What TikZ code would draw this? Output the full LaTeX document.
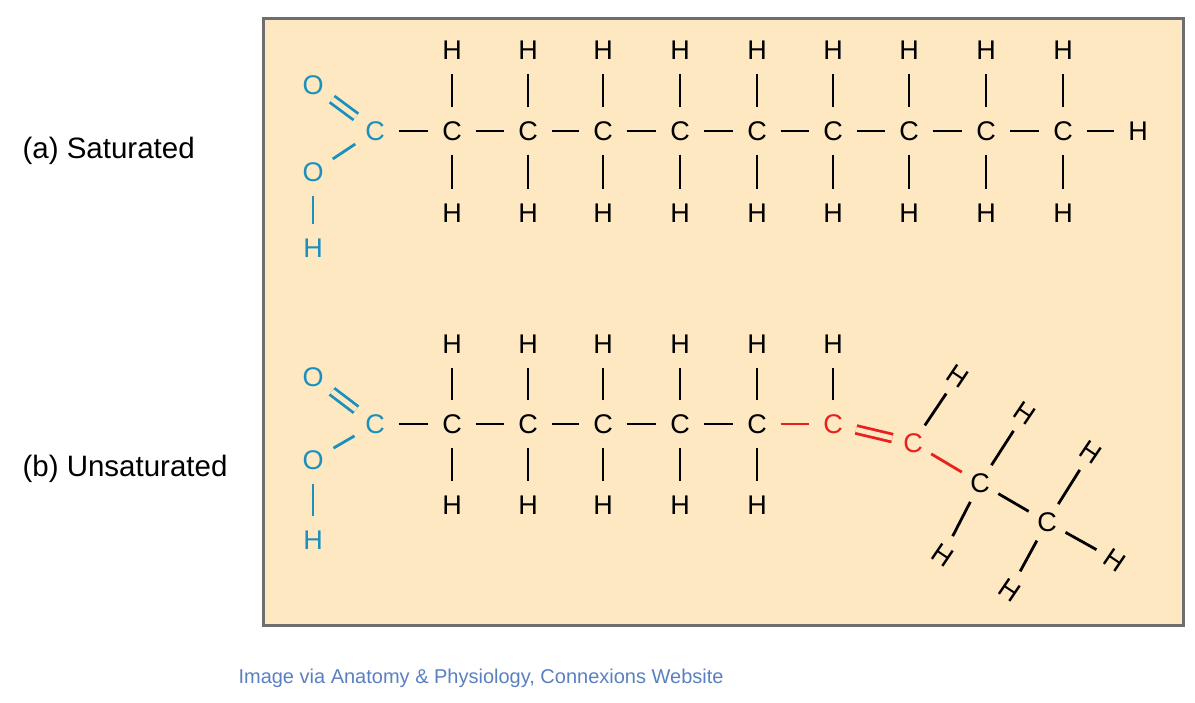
\documentclass[tikz,border=0pt]{standalone}
\usepackage{fontspec}
\setmainfont{Liberation Sans}
\definecolor{bg}{HTML}{FDE8C1}
\definecolor{acid}{HTML}{1A90BE}
\definecolor{dbl}{HTML}{E8211F}
\definecolor{frame}{HTML}{6E6E6E}
\definecolor{cap}{HTML}{5A80C0}
\begin{document}
\begin{tikzpicture}[x=1pt,y=-1pt,
  atom/.style={circle,minimum size=47pt,inner sep=0pt,font=\fontsize{27}{27}\selectfont},
  bond/.style={line width=2.8pt},
  lab/.style={anchor=west,font=\fontsize{29.5}{29.5}\selectfont},
  dbond/.style={line width=2.8pt,double=bg,double distance=5pt}]
\useasboundingbox (0,0) rectangle (1195,702);
\draw[frame,line width=3pt,fill=bg] (263,18) rectangle (1183,625);
\node[lab] (la) at (19,151) {(a) Saturated};
\node[lab] (lb) at (19,469) {(b) Unsaturated};
\node[anchor=west,text=cap,font=\fontsize{20}{20}\selectfont] (cp) at (235,678) {Image via Anatomy \& Physiology, Connexions Website};
% ---- row a
\begin{scope}[acid]
\node[atom] (ac) at (375,131) {C};
\node[atom] (ao1) at (313,85) {O};
\node[atom] (ao2) at (313,172) {O};
\node[atom] (ah) at (313,248) {H};
\draw[dbond] (ac) -- (ao1);
\draw[bond] (ac) -- (ao2);
\draw[bond] (ao2) -- (ah);
\end{scope}
\foreach \i/\x in {1/452,2/528,3/603,4/680,5/757,6/833,7/909,8/986,9/1063}{
  \node[atom] (a\i) at (\x,131) {C};
  \node[atom] (au\i) at (\x,50) {H};
  \node[atom] (ad\i) at (\x,213) {H};
  \draw[bond] (a\i) -- (au\i);
  \draw[bond] (a\i) -- (ad\i);
}
\node[atom] (aend) at (1138,131) {H};
\draw[bond] (ac) -- (a1);
\foreach \i/\j in {1/2,2/3,3/4,4/5,5/6,6/7,7/8,8/9}{\draw[bond] (a\i) -- (a\j);}
\draw[bond] (a9) -- (aend);
% ---- row b
\begin{scope}[acid]
\node[atom] (bc) at (375,424) {C};
\node[atom] (bo1) at (313,377) {O};
\node[atom] (bo2) at (313,460) {O};
\node[atom] (bh) at (313,540) {H};
\draw[dbond] (bc) -- (bo1);
\draw[bond] (bc) -- (bo2);
\draw[bond] (bo2) -- (bh);
\end{scope}
\foreach \i/\x in {1/452,2/528,3/603,4/680,5/757}{
  \node[atom] (b\i) at (\x,424) {C};
  \node[atom] (bu\i) at (\x,344) {H};
  \node[atom] (bd\i) at (\x,505) {H};
  \draw[bond] (b\i) -- (bu\i);
  \draw[bond] (b\i) -- (bd\i);
}
\draw[bond] (bc) -- (b1);
\foreach \i/\j in {1/2,2/3,3/4,4/5}{\draw[bond] (b\i) -- (b\j);}
\node[atom,text=dbl] (b6) at (833,424) {C};
\node[atom] (bu6) at (833,344) {H};
\draw[bond] (b6) -- (bu6);
\draw[bond,dbl] (b5) -- (b6);
\node[atom,text=dbl,minimum size=42pt] (b7) at (913,443) {C};
\draw[dbond,dbl] (b6) -- (b7);
\node[atom,minimum size=42pt] (b8) at (980,483) {C};
\node[atom,minimum size=42pt] (b9) at (1047,522) {C};
\draw[bond,dbl] (b7) -- (b8);
\draw[bond] (b8) -- (b9);
\node[atom,minimum size=42pt,rotate=-34] (h7) at (958,376) {H};
\node[atom,minimum size=42pt,rotate=-34] (h8u) at (1025,413) {H};
\node[atom,minimum size=42pt,rotate=-34] (h8d) at (943,555) {H};
\node[atom,minimum size=42pt,rotate=-34] (h9u) at (1091,452) {H};
\node[atom,minimum size=42pt,rotate=-34] (h9d) at (1010,590) {H};
\node[atom,minimum size=42pt,rotate=-34] (h9r) at (1115,560) {H};
\draw[bond] (b7) -- (h7);
\draw[bond] (b8) -- (h8u);
\draw[bond] (b8) -- (h8d);
\draw[bond] (b9) -- (h9u);
\draw[bond] (b9) -- (h9d);
\draw[bond] (b9) -- (h9r);
\end{tikzpicture}
\end{document}
